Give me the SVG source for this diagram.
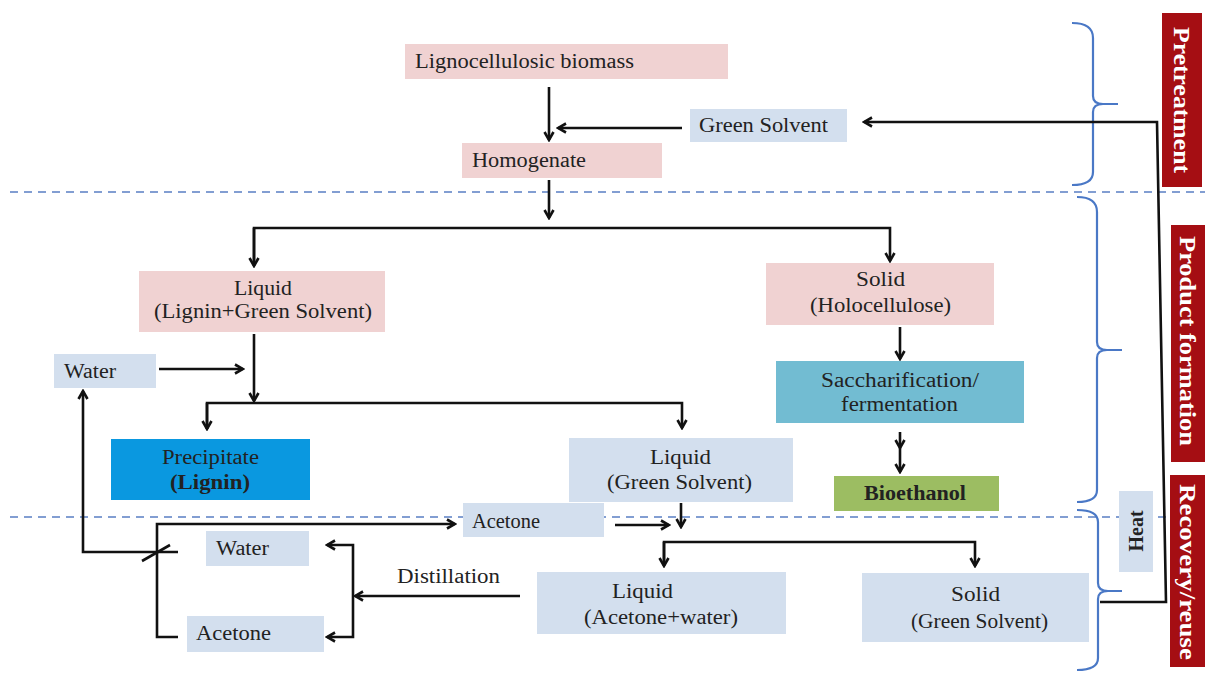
<svg xmlns="http://www.w3.org/2000/svg" width="1205" height="673" viewBox="0 0 1205 673">
<style>
.t{font-family:"Liberation Serif","Times New Roman",serif;font-size:20px;fill:#222;}
.b{font-weight:bold;}
.lbl{font-family:"Liberation Serif","Times New Roman",serif;font-size:23px;font-weight:bold;fill:#fff;}
.pink{fill:#f0d2d2;}
.lb{fill:#d3dfee;}
.ln{fill:none;stroke:#111;stroke-width:2.6;}
.dash{stroke:#5a7fc4;stroke-width:1.6;stroke-dasharray:8 6;}
.brace{fill:none;stroke:#4a78c6;stroke-width:2.2;}
.red{fill:#a50e13;}
</style>
<defs>
<marker id="ah" viewBox="0 0 12 12" refX="10" refY="6" markerWidth="12" markerHeight="12" markerUnits="userSpaceOnUse" orient="auto">
<path d="M2,1.5 L10,6 L2,10.5" fill="none" stroke="#111" stroke-width="2.6" stroke-linejoin="miter"/>
</marker>
</defs>
<rect width="1205" height="673" fill="#fff"/>

<!-- dashed separators -->
<line class="dash" x1="10" y1="192" x2="1205" y2="192"/>
<line class="dash" x1="10" y1="517" x2="1205" y2="517"/>

<!-- nodes -->
<g id="biomass"><rect class="pink" x="405" y="44" width="323" height="35"/><text class="t" x="415" y="68" textLength="219" lengthAdjust="spacingAndGlyphs">Lignocellulosic biomass</text></g>
<g id="greensolvent"><rect class="lb" x="690" y="109" width="157" height="33"/><text class="t" x="699" y="132" textLength="129" lengthAdjust="spacingAndGlyphs">Green Solvent</text></g>
<g id="homogenate"><rect class="pink" x="462" y="143" width="200" height="35"/><text class="t" x="472" y="167" textLength="114" lengthAdjust="spacingAndGlyphs">Homogenate</text></g>
<g id="liquid-lignin"><rect class="pink" x="139" y="271" width="246" height="61"/><text class="t" x="234" y="295" textLength="58" lengthAdjust="spacingAndGlyphs">Liquid</text><text class="t" x="154" y="318" textLength="218" lengthAdjust="spacingAndGlyphs">(Lignin+Green Solvent)</text></g>
<g id="solid-holo"><rect class="pink" x="766" y="263" width="228" height="62"/><text class="t" x="856" y="286" textLength="49" lengthAdjust="spacingAndGlyphs">Solid</text><text class="t" x="810" y="312" textLength="141" lengthAdjust="spacingAndGlyphs">(Holocellulose)</text></g>
<g id="water-top"><rect class="lb" x="54" y="354" width="102" height="34"/><text class="t" x="64" y="378" textLength="52" lengthAdjust="spacingAndGlyphs">Water</text></g>
<g id="sacch"><rect fill="#72bcd2" x="776" y="361" width="248" height="62"/><text class="t" x="821" y="387" textLength="158" lengthAdjust="spacingAndGlyphs">Saccharification/</text><text class="t" x="841" y="411" textLength="117" lengthAdjust="spacingAndGlyphs">fermentation</text></g>
<g id="precipitate"><rect fill="#0a98e0" x="111" y="439" width="199" height="61"/><text class="t" x="162" y="464" textLength="97" lengthAdjust="spacingAndGlyphs">Precipitate</text><text class="t b" x="170" y="489" textLength="80" lengthAdjust="spacingAndGlyphs">(Lignin)</text></g>
<g id="liquid-gs"><rect class="lb" x="569" y="438" width="224" height="64"/><text class="t" x="650" y="464" textLength="61" lengthAdjust="spacingAndGlyphs">Liquid</text><text class="t" x="607" y="489" textLength="145" lengthAdjust="spacingAndGlyphs">(Green Solvent)</text></g>
<g id="bioethanol"><rect fill="#9cbd62" x="834" y="476" width="165" height="35"/><text class="t b" x="864" y="500" textLength="102" lengthAdjust="spacingAndGlyphs">Bioethanol</text></g>
<g id="acetone-top"><rect class="lb" x="463" y="503" width="141" height="34"/><text class="t" x="472" y="528" textLength="68" lengthAdjust="spacingAndGlyphs">Acetone</text></g>
<g id="water-bottom"><rect class="lb" x="206" y="531" width="103" height="35"/><text class="t" x="216" y="555" textLength="53" lengthAdjust="spacingAndGlyphs">Water</text></g>
<g id="acetone-bottom"><rect class="lb" x="187" y="616" width="137" height="36"/><text class="t" x="196" y="640" textLength="75" lengthAdjust="spacingAndGlyphs">Acetone</text></g>
<g id="liquid-acetone"><rect class="lb" x="537" y="572" width="249" height="62"/><text class="t" x="612" y="598" textLength="61" lengthAdjust="spacingAndGlyphs">Liquid</text><text class="t" x="584" y="624" textLength="154" lengthAdjust="spacingAndGlyphs">(Acetone+water)</text></g>
<g id="solid-gs"><rect class="lb" x="862" y="573" width="227" height="69"/><text class="t" x="951" y="601" textLength="49" lengthAdjust="spacingAndGlyphs">Solid</text><text class="t" x="911" y="628" textLength="137" lengthAdjust="spacingAndGlyphs">(Green Solvent)</text></g>
<g id="heat"><rect class="lb" x="1119" y="491" width="34" height="81"/><text class="t b" transform="translate(1143,531) rotate(-90)" text-anchor="middle" font-size="19">Heat</text></g>

<!-- stage labels -->
<g id="stage-pretreatment"><rect class="red" x="1162" y="13" width="40" height="174"/><text class="lbl" transform="translate(1174,27) rotate(90)" textLength="146" lengthAdjust="spacingAndGlyphs">Pretreatment</text></g>
<g id="stage-product"><rect class="red" x="1171" y="225" width="34" height="237"/><text class="lbl" transform="translate(1180,236) rotate(90)" textLength="210" lengthAdjust="spacingAndGlyphs">Product formation</text></g>
<g id="stage-recovery"><rect class="red" x="1170" y="475" width="35" height="192"/><text class="lbl" transform="translate(1180,484) rotate(90)" textLength="176" lengthAdjust="spacingAndGlyphs">Recovery/reuse</text></g>

<!-- braces -->
<g id="braces">
<path class="brace" d="M1072,23 Q1093,23 1093,38 V96 Q1093,104 1103,104 H1118 M1103,104 Q1093,104 1093,112 V172 Q1093,185 1072,185"/>
<path class="brace" d="M1077,197 Q1097,197 1097,212 V342 Q1097,350 1107,350 H1122 M1107,350 Q1097,350 1097,358 V490 Q1097,502 1077,502"/>
<path class="brace" d="M1077,510 Q1098,510 1098,522 V583 Q1098,591 1108,591 H1122 M1108,591 Q1098,591 1098,599 V658 Q1098,670 1077,670"/>
</g>

<!-- connectors -->
<g id="connectors">
<line class="ln" x1="549" y1="87" x2="549" y2="140" marker-end="url(#ah)"/>
<line class="ln" x1="682" y1="128" x2="558" y2="128" marker-end="url(#ah)"/>
<line class="ln" x1="549" y1="180" x2="549" y2="218" marker-end="url(#ah)"/>
<polyline class="ln" points="254,262 254,228 890,228 890,261" marker-end="url(#ah)"/>
<line class="ln" x1="254" y1="228" x2="254" y2="266" marker-end="url(#ah)"/>
<line class="ln" x1="900" y1="327" x2="900" y2="359" marker-end="url(#ah)"/>
<polyline class="ln" points="900,432 900,448 900,472" marker-mid="url(#ah)" marker-end="url(#ah)"/>
<line class="ln" x1="159" y1="369" x2="243" y2="369" marker-end="url(#ah)"/>
<line class="ln" x1="254" y1="334" x2="254" y2="401" marker-end="url(#ah)"/>
<polyline class="ln" points="207,429 207,403 682,403 682,428" marker-end="url(#ah)"/>
<line class="ln" x1="207" y1="403" x2="207" y2="429" marker-end="url(#ah)"/>
<line class="ln" x1="681" y1="503" x2="681" y2="527" marker-end="url(#ah)"/>
<line class="ln" x1="615" y1="525" x2="669" y2="525" marker-end="url(#ah)"/>
<polyline class="ln" points="664,565 664,542 975,542 975,566" marker-end="url(#ah)"/>
<line class="ln" x1="664" y1="542" x2="664" y2="566" marker-end="url(#ah)"/>
<line class="ln" x1="520" y1="596" x2="355" y2="596" marker-end="url(#ah)"/>
<polyline class="ln" points="353,596 353,545 327,545" marker-end="url(#ah)"/>
<polyline class="ln" points="353,596 353,637 327,637" marker-end="url(#ah)"/>
<polyline class="ln" points="178,637 157,637 157,524 455,524" marker-end="url(#ah)"/>
<polyline class="ln" points="178,552 83,552 83,391" marker-end="url(#ah)"/>
<line class="ln" x1="142" y1="561" x2="170" y2="545"/>
<polyline class="ln" points="1100,602 1166,602 1157,122 864,122" marker-end="url(#ah)"/>
<text class="t" x="397" y="583" textLength="103" lengthAdjust="spacingAndGlyphs">Distillation</text>
</g>
</svg>
